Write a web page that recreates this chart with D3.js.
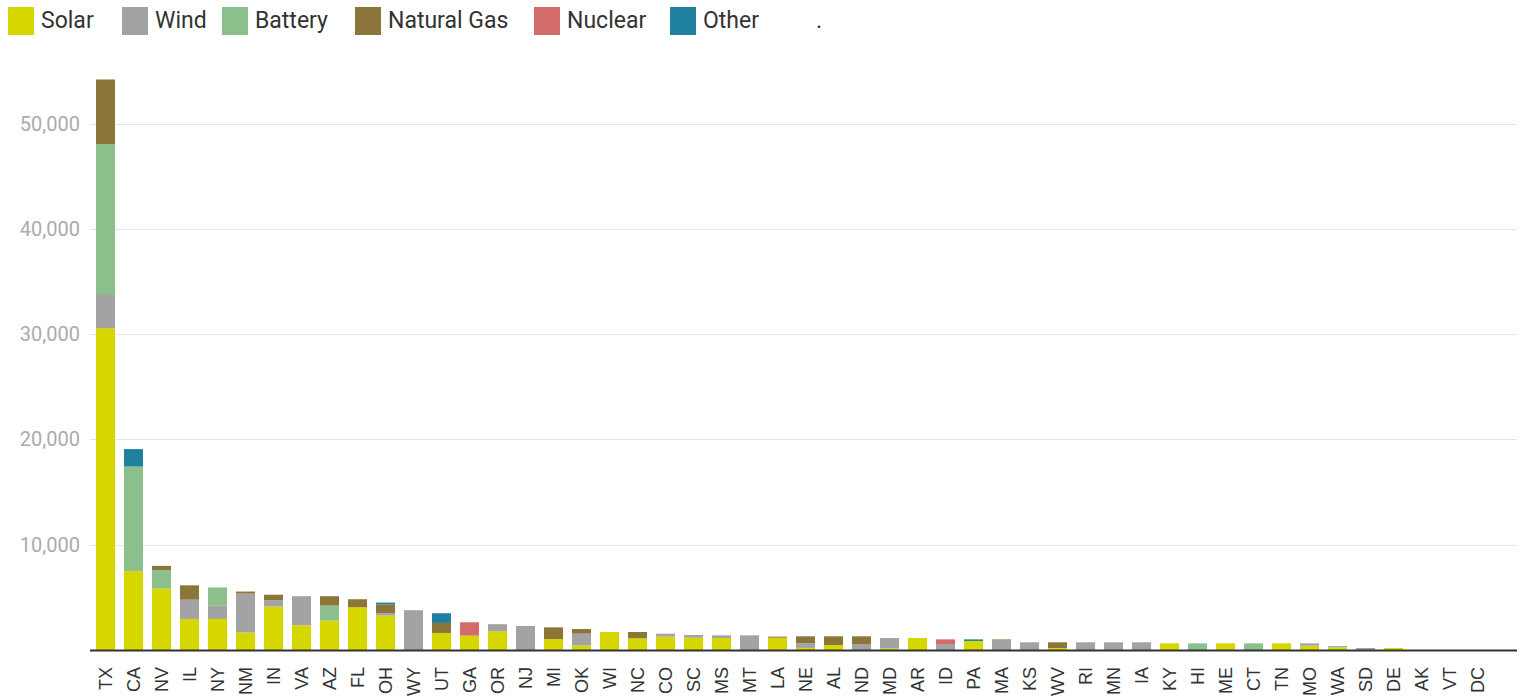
<!DOCTYPE html>
<html>
<head>
<meta charset="utf-8">
<script src="https://cdn.jsdelivr.net/npm/d3@7"></script>
<style>
  html, body { margin: 0; padding: 0; background: #fff; }
  svg { display: block; font-family: Roboto, "Noto Sans", sans-serif; }
</style>
</head>
<body>
<svg id="chart" width="1526" height="698"></svg>
<script>
const states = ["TX","CA","NV","IL","NY","NM","IN","VA","AZ","FL","OH","WY","UT","GA","OR","NJ","MI","OK","WI","NC","CO","SC","MS","MT","LA","NE","AL","ND","MD","AR","ID","PA","MA","KS","WV","RI","MN","IA","KY","HI","ME","CT","TN","MO","WA","SD","DE","AK","VT","DC"];

const solar   = [30560,7490,5830,2950,2950,1670,4120,2350,2790,4060,3270,0,1620,1365,1780,0,1040,440,1710,1110,1270,1170,1140,0,1170,200,475,0,150,1140,0,860,0,0,190,0,0,0,630,0,630,0,630,410,250,0,190,0,0,0];
const wind    = [3150,0,0,1830,1250,3690,590,2760,0,0,220,3780,0,0,670,2280,0,1110,0,0,280,250,250,1390,0,440,0,570,990,0,570,0,960,730,0,730,730,730,0,0,0,0,0,220,0,190,0,0,0,0];
const battery = [14330,9930,1740,0,1740,0,0,0,1430,0,0,0,0,0,0,0,0,0,0,0,0,0,0,0,0,0,0,0,0,0,0,0,0,0,0,0,0,0,0,630,0,630,0,0,130,0,0,0,0,0];
const gas     = [6140,0,420,1360,0,190,540,0,890,760,825,0,950,0,0,0,1110,440,0,600,0,0,0,0,100,660,825,730,0,0,0,0,50,0,540,0,0,0,0,0,0,0,0,0,0,0,0,0,0,0];
const nuclear = [0,0,0,0,0,0,0,0,0,0,0,0,0,1270,0,0,0,0,0,0,0,0,0,0,0,0,0,0,0,0,440,0,0,0,0,0,0,0,0,0,0,0,0,0,0,0,0,0,0,0];
const other   = [0,1660,0,0,0,0,0,0,0,0,190,0,920,0,0,0,0,0,0,0,0,0,0,0,0,0,0,0,0,0,0,150,0,0,0,0,0,0,0,0,0,0,0,0,0,0,0,0,0,0];

const seriesNames = ["Solar","Wind","Battery","Natural Gas","Nuclear","Other"];
const seriesValues = [solar, wind, battery, gas, nuclear, other];
const colors = ["#d6d600","#a3a3a3","#8bbf8b","#8c7538","#d46b6b","#1f80a0"];
const yTicks = [10000,20000,30000,40000,50000];

const rows = states.map((s, i) => {
  const r = { state: s };
  seriesNames.forEach((n, j) => r[n] = seriesValues[j][i]);
  return r;
});

const svg = d3.select("#chart");
const plotLeft = 90, plotRight = 1517, baseY = 650;

const x = d3.scaleBand().domain(states).range([91.5, 1491.5]).paddingInner(0.32).paddingOuter(0.16);
const y = d3.scaleLinear().domain([0, 50000]).range([baseY, 123.5]);

// gridlines
svg.append("g").selectAll("line").data(yTicks).join("line")
  .attr("x1", plotLeft).attr("x2", plotRight)
  .attr("y1", d => Math.round(y(d)) + 0.5).attr("y2", d => Math.round(y(d)) + 0.5)
  .attr("stroke", "#e6e6e6").attr("stroke-width", 1);

// y labels
svg.append("g").selectAll("text").data(yTicks).join("text")
  .attr("x", 80).attr("y", d => y(d)).attr("dy", "0.35em")
  .attr("text-anchor", "end").attr("font-size", 20).attr("fill", "#ababab")
  .text(d => d3.format(",")(d));

// bars
const stack = d3.stack().keys(seriesNames);
const stacked = stack(rows);
svg.append("g").selectAll("g").data(stacked).join("g")
  .attr("fill", (d, i) => colors[i])
  .selectAll("rect").data(d => d.filter(p => p[1] - p[0] > 0)).join("rect")
  .attr("x", d => x(d.data.state))
  .attr("width", x.bandwidth())
  .attr("y", d => y(d[1]))
  .attr("height", d => y(d[0]) - y(d[1]));

// axis line
svg.append("line").attr("x1", plotLeft).attr("x2", plotRight)
  .attr("y1", baseY + 0.5).attr("y2", baseY + 0.5)
  .attr("stroke", "#333").attr("stroke-width", 2);

// x labels
svg.append("g").selectAll("text").data(states).join("text")
  .attr("transform", d => `translate(${x(d) + x.bandwidth() / 2 + 6.5},${baseY + 17}) rotate(-90)`)
  .attr("text-anchor", "end").attr("font-size", 18)
  .attr("font-family", "'Liberation Sans', Arial, sans-serif").attr("fill", "#333")
  .text(d => d);

// legend
const legendX = [8, 122, 222, 355, 534, 670];
const lg = svg.append("g");
seriesNames.forEach((n, i) => {
  lg.append("rect").attr("x", legendX[i]).attr("y", 7).attr("width", 26).attr("height", 28).attr("fill", colors[i]);
  lg.append("text").attr("x", legendX[i] + 33).attr("y", 20).attr("dy", "0.35em")
    .attr("font-size", 23).attr("fill", "#333").text(n);
});
lg.append("text").attr("x", 816).attr("y", 20).attr("dy", "0.35em")
  .attr("font-size", 23).attr("fill", "#333").text(".");
</script>
</body>
</html>
